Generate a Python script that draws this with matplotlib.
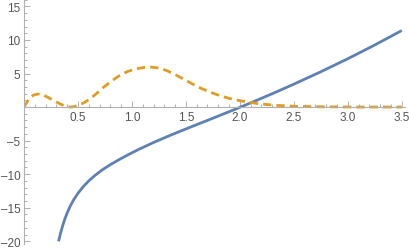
import numpy as np
import matplotlib
matplotlib.use("Agg")
import matplotlib.pyplot as plt
from matplotlib.ticker import MultipleLocator, FuncFormatter

# values
blue_x = [0.32, 0.34, 0.36, 0.38, 0.40, 0.43, 0.46, 0.50, 0.55, 0.60, 0.66, 0.73, 0.80, 0.88,
          0.97, 1.07, 1.20, 1.35, 1.50, 1.65, 1.80, 1.95, 2.10, 2.30, 2.50, 2.75, 3.00, 3.25, 3.50]
blue_y = [-20.0, -18.7, -17.58, -16.61, -15.77, -14.70, -13.82, -12.84, -11.84, -11.0, -10.15,
          -9.3, -8.58, -7.84, -7.06, -6.25, -5.28, -4.24, -3.26, -2.30, -1.34, -0.37, 0.62,
          1.99, 3.41, 5.26, 7.20, 9.25, 11.4]

orange_x = [0.0, 0.02, 0.04, 0.06, 0.09, 0.13, 0.17, 0.21, 0.25, 0.29, 0.33, 0.37, 0.40, 0.43,
            0.46, 0.50, 0.55, 0.60, 0.66, 0.73, 0.80, 0.88, 0.96, 1.04, 1.12, 1.18, 1.25, 1.32,
            1.40, 1.48, 1.56, 1.64, 1.72, 1.81, 1.90, 2.00, 2.09, 2.20, 2.34, 2.50, 2.70, 2.90,
            3.10, 3.50]
orange_y = [0.0, 0.55, 1.05, 1.45, 1.8, 1.94, 1.85, 1.55, 1.2, 0.85, 0.5, 0.22, 0.07, 0.0,
            0.05, 0.25, 0.6, 1.1, 1.85, 2.85, 3.75, 4.65, 5.3, 5.7, 5.92, 5.95, 5.82, 5.45,
            4.85, 4.15, 3.45, 2.8, 2.25, 1.72, 1.3, 0.95, 0.7, 0.45, 0.25, 0.12, 0.05, 0.02,
            0.0, 0.0]

x_ticks = [0.5, 1.0, 1.5, 2.0, 2.5, 3.0, 3.5]
y_ticks = [-20, -15, -10, -5, 5, 10, 15]

fig = plt.figure(figsize=(4.10, 2.51), dpi=100)
ax = fig.add_axes([24 / 410, 6 / 251, 381 / 410, 245 / 251])

ax.plot(blue_x, blue_y, color="#5e81b5", lw=2.0, solid_capstyle="butt")
ax.plot(orange_x, orange_y, color="#e19c24", lw=2.0, dashes=(3.0, 1.8))

ax.set_xlim(0, 3.53)
ax.set_ylim(-20.4, 16.1)

for s in ["top", "right"]:
    ax.spines[s].set_visible(False)
ax.spines["left"].set_position(("data", 0))
ax.spines["bottom"].set_position(("data", 0))
for s in ["left", "bottom"]:
    ax.spines[s].set_color("#b0b0b0")
    ax.spines[s].set_linewidth(0.8)

ax.set_xticks(x_ticks)
ax.set_yticks(y_ticks)
ax.xaxis.set_minor_locator(MultipleLocator(0.1))
ax.yaxis.set_minor_locator(MultipleLocator(1))
ax.xaxis.set_major_formatter(FuncFormatter(lambda v, p: "%.1f" % v))
ax.yaxis.set_major_formatter(FuncFormatter(lambda v, p: ("%d" % v).replace("-", "\u2013")))
ax.tick_params(which="both", direction="in", color="#b0b0b0", width=0.7,
               labelcolor="#555555", labelsize=8.5)
ax.tick_params(which="major", length=4, pad=2.5)
ax.tick_params(which="minor", length=2)
for lbl in ax.get_xticklabels() + ax.get_yticklabels():
    lbl.set_fontfamily("Liberation Sans")
ax.patch.set_alpha(0)

fig.savefig("out.png", dpi=100)
